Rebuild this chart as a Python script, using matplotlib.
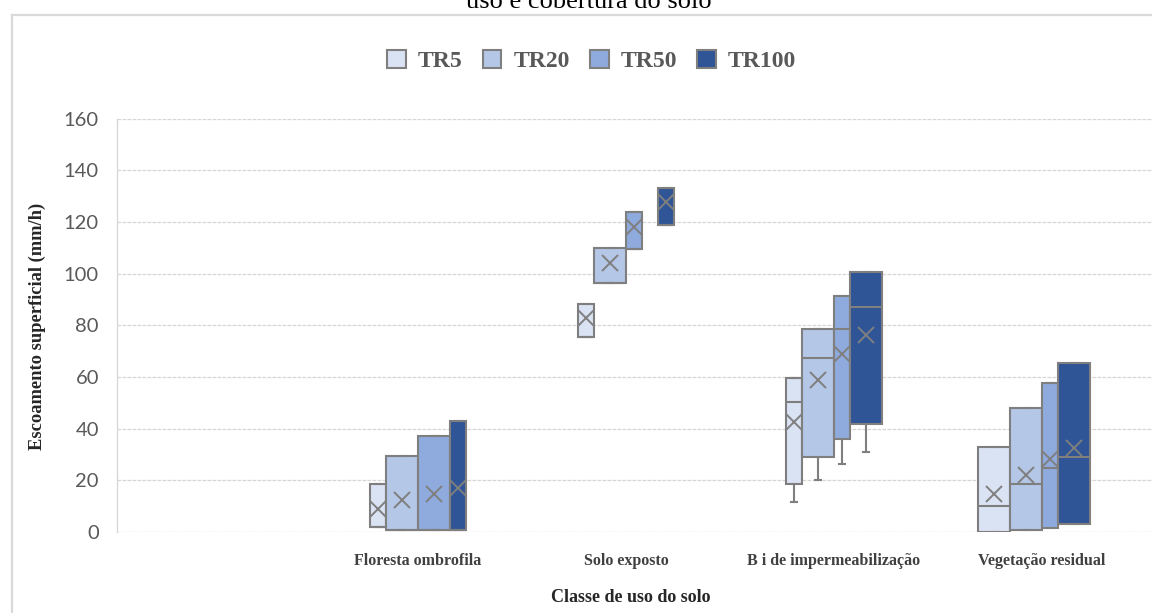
import matplotlib
matplotlib.use("Agg")
import matplotlib.pyplot as plt
from matplotlib.patches import Patch
from matplotlib.lines import Line2D

# ---------------- data ----------------
categories = ["Floresta ombrofila", "Solo exposto", "B i de impermeabilização", "Vegetação residual"]
series = ["TR5", "TR20", "TR50", "TR100"]
y_ticks = [0, 20, 40, 60, 80, 100, 120, 140, 160]

# rows = series (TR5, TR20, TR50, TR100), columns = categories
q3 = [[18.5, 88.2, 59.6, 33.0],
      [29.4, 109.8, 78.7, 47.8],
      [37.2, 123.8, 91.2, 57.8],
      [43.0, 133.0, 100.5, 65.5]]
q1 = [[2.1, 75.6, 18.4, 0.0],
      [0.8, 96.5, 29.1, 0.8],
      [0.8, 109.6, 36.1, 1.7],
      [0.8, 118.8, 41.8, 3.1]]
median = [[2.1, 75.6, 50.2, 10.1],
          [0.8, 96.5, 67.2, 18.4],
          [0.8, 109.6, 78.7, 24.6],
          [0.8, 118.8, 87.2, 29.1]]
mean = [[8.8, 82.7, 42.7, 14.7],
        [12.4, 104.2, 58.8, 22.1],
        [14.7, 118.1, 68.9, 28.1],
        [16.9, 127.8, 76.2, 32.6]]
whisker_low = [[2.1, 75.6, 11.5, 0.0],
               [0.8, 96.5, 20.1, 0.8],
               [0.8, 109.6, 26.3, 1.7],
               [0.8, 118.8, 31.0, 3.1]]
whisker_high = q3

# ---------------- style / layout ----------------
colors = ["#dae3f3", "#b4c7e7", "#8faadc", "#2f5597"]
edge = "#7f7f7f"
slot = 32 / 208.0  # box slot width in category units
# left offset (in slots) from category centre, and width factor, per series x category
box_offset = [[-1.5, -1.5, -1.5, -2.0],
              [-1.0, -1.0, -1.0, -1.0],
              [0.0, 0.0, 0.0, 0.0],
              [1.0, 1.0, 0.5, 0.5]]
box_wfac = [[0.5, 0.5, 0.5, 1.0],
            [1.0, 1.0, 1.0, 1.0],
            [1.0, 0.5, 0.5, 0.5],
            [0.5, 0.5, 1.0, 1.0]]

W, H = 1152, 613
fig = plt.figure(figsize=(W / 100, H / 100), dpi=100)
fig.patch.set_facecolor("white")
ax = fig.add_axes([117 / W, (H - 532) / H, (W - 117) / W, (532 - 118.5) / H])

cat_pos = [i + 1 for i in range(len(categories))]

for s in range(len(series)):
    stats, pos, wid = [], [], []
    for c in range(len(categories)):
        stats.append(dict(med=median[s][c], q1=q1[s][c], q3=q3[s][c],
                          whislo=whisker_low[s][c], whishi=whisker_high[s][c],
                          mean=mean[s][c], fliers=[], label=series[s]))
        w = box_wfac[s][c] * slot
        left = cat_pos[c] + box_offset[s][c] * slot
        pos.append(left + w / 2)
        wid.append(w)
    ax.bxp(stats, positions=pos, widths=wid, patch_artist=True, showmeans=True,
           showfliers=False, capwidths=[6 / 208.0] * len(pos), manage_ticks=False,
           boxprops=dict(facecolor=colors[s], edgecolor=edge, linewidth=1.5),
           medianprops=dict(color=edge, linewidth=1.5),
           whiskerprops=dict(color=edge, linewidth=1.5),
           capprops=dict(color=edge, linewidth=1.5),
           meanprops=dict(marker="x", markeredgecolor=edge, markerfacecolor=edge,
                          markersize=11, markeredgewidth=1.4))

ax.set_xlim((117 - 210) / 208.0, (W - 210) / 208.0)
ax.set_ylim(0, 160)
ax.set_yticks(y_ticks)
ax.set_yticklabels([str(v) for v in y_ticks], fontfamily="Lato", fontsize=14.5, color="#595959")
ax.set_xticks(cat_pos)
ax.set_xticklabels(categories, fontfamily="Liberation Serif", fontweight="bold",
                   fontsize=11.5, color="#404040")
ax.tick_params(axis="y", length=0, pad=13)
ax.tick_params(axis="x", length=0, pad=15)
ax.set_axisbelow(True)
ax.grid(axis="y", color="#d6d6d6", linestyle=(0, (3, 1)), linewidth=0.9)
for sp in ["top", "right", "bottom"]:
    ax.spines[sp].set_visible(False)
ax.spines["left"].set_color("#d6d6d6")
ax.spines["left"].set_linestyle((0, (3, 1)))
ax.spines["left"].set_linewidth(0.9)
ax.set_facecolor("white")

# axis titles
fig.text(37 / W, 1 - 326 / H, "Escoamento superficial (mm/h)", rotation=90,
         ha="center", va="center", fontfamily="Liberation Serif", fontweight="bold",
         fontsize=13.3, color="#262626")
fig.text(631 / W, 1 - 597 / H, "Classe de uso do solo", ha="center", va="center",
         fontfamily="Liberation Serif", fontweight="bold", fontsize=13, color="#262626")

# title (partly outside the top edge, as in the reference)
fig.text(589 / W, 1 - 8.3 / H, "uso e cobertura do solo", ha="center", va="baseline",
         fontfamily="Liberation Serif", fontsize=19, color="black")

# chart border
fig.add_artist(Line2D([12 / W, 12 / W], [1 - 14.7 / H, 0], transform=fig.transFigure,
                      color="#d9d9d9", linewidth=1.6))
fig.add_artist(Line2D([12 / W, 1], [1 - 14.7 / H, 1 - 14.7 / H], transform=fig.transFigure,
                      color="#d9d9d9", linewidth=1.6))

# legend
handles = [Patch(facecolor=colors[i], edgecolor=edge, linewidth=1.5, label=series[i])
           for i in range(len(series))]
fig.legend(handles=handles, loc="center", bbox_to_anchor=(591.5 / W, 1 - 61 / H), ncol=4,
           frameon=False, prop=dict(family="Liberation Serif", weight="bold", size=17),
           labelcolor="#595959", handlelength=0.8, handleheight=0.8,
           handletextpad=0.5, columnspacing=0.85, borderpad=0)

fig.savefig("out.png", dpi=100, facecolor="white")
